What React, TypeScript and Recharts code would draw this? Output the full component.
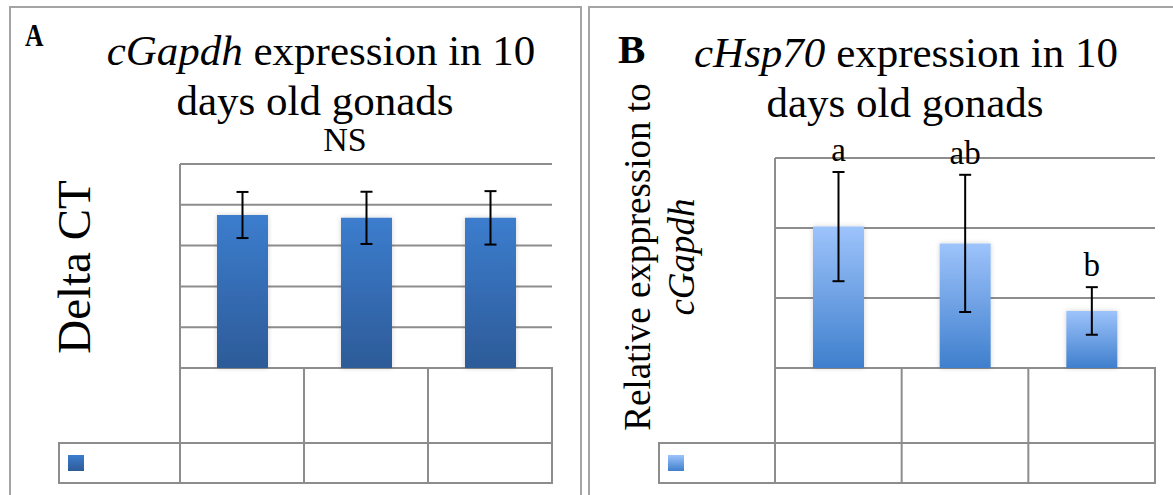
import React from "react";
import {
  BarChart,
  Bar,
  XAxis,
  YAxis,
  CartesianGrid,
  ErrorBar,
  LabelList,
  Legend,
} from "recharts";

// Panel A: cGapdh delta CT
const groups = ["", "", ""];
const gapdhDeltaCt = [7.5, 7.36, 7.36];
const gapdhError = [1.13, 1.28, 1.31];
const gapdhTicks = [0, 2, 4, 6, 8, 10];

// Panel B: cHsp70 relative to cGapdh
const hspRelative = [2.02, 1.78, 0.815];
const hspError = [0.78, 0.98, 0.34];
const hspLetters = ["a", "ab", "b"];
const hspTicks = [0, 1, 2, 3];

const gapdhData = groups.map((group, i) => ({
  group,
  value: gapdhDeltaCt[i],
  err: gapdhError[i],
}));

const hspData = groups.map((group, i) => ({
  group,
  value: hspRelative[i],
  err: hspError[i],
  sig: hspLetters[i],
}));

const LINE = "#8d8d8d";
const FRAME = "#a4a4a4";
const SERIF = "'Liberation Serif', 'Times New Roman', serif";
const ROW1 = 75;
const ROW2 = 115;

// ticks are unlabeled in the original, but the grid needs them to exist
const NoTickLabel = () => <g />;

function makeTableTick(band: number) {
  return (props: any) => {
    const { x, y, index, visibleTicksCount } = props;
    const left = x - band / 2;
    const right = x + band / 2;
    const last = index === visibleTicksCount - 1;
    const line = { stroke: LINE, strokeWidth: 2, strokeLinecap: "square" as const };
    return (
      <g>
        <line x1={left} y1={y} x2={left} y2={y + ROW2} {...line} />
        {last && <line x1={right} y1={y} x2={right} y2={y + ROW2} {...line} />}
        <line x1={left} y1={y + ROW1} x2={right} y2={y + ROW1} {...line} />
        <line x1={left} y1={y + ROW2} x2={right} y2={y + ROW2} {...line} />
      </g>
    );
  };
}

function LegendCell({ width, keyFill }: { width: number; keyFill: string }) {
  return (
    <div
      style={{
        width,
        height: 42,
        boxSizing: "border-box",
        border: `2px solid ${LINE}`,
        borderRight: "none",
        position: "relative",
      }}
    >
      <div
        style={{
          position: "absolute",
          left: 8,
          top: 11,
          width: 16,
          height: 16,
          background: keyFill,
        }}
      />
    </div>
  );
}

function SigLabel(props: any) {
  const { x, y, width, height, value, index } = props;
  const d = hspData[index];
  const errPx = (height * d.err) / d.value;
  return (
    <text
      x={x + width / 2}
      y={y - errPx - 11}
      textAnchor="middle"
      fontFamily={SERIF}
      fontSize={33}
      fill="#000"
    >
      {value}
    </text>
  );
}

function BarShadow({ id }: { id: string }) {
  return (
    <filter id={id} x="-30%" y="-10%" width="160%" height="120%">
      <feDropShadow dx="0" dy="0" stdDeviation="2.5" floodColor="#000" floodOpacity="0.18" />
    </filter>
  );
}

function GapdhChart() {
  // plot area: x 180..552, y 164..368 (page coords, chart at 0,0)
  return (
    <BarChart
      width={590}
      height={495}
      data={gapdhData}
      margin={{ top: 164, left: 179, right: 38, bottom: 12 }}
    >
      <defs>
        <linearGradient id="gapdhFill" x1="0" y1="0" x2="0" y2="1">
          <stop offset="0%" stopColor="#3c7dce" />
          <stop offset="100%" stopColor="#2d5b98" />
        </linearGradient>
        <BarShadow id="gapdhShadow" />
      </defs>
      <CartesianGrid vertical={false} stroke={LINE} strokeWidth={2} />
      <XAxis
        dataKey="group"
        height={115}
        tickSize={0}
        tickMargin={0}
        axisLine={false}
        tick={makeTableTick(124)}
        interval={0}
      />
      <YAxis
        width={1}
        domain={[0, 10]}
        ticks={gapdhTicks}
        interval={0}
        tick={NoTickLabel}
        tickLine={false}
        axisLine={{ stroke: LINE, strokeWidth: 2 }}
      />
      <Legend
        layout="horizontal"
        verticalAlign="middle"
        align="center"
        wrapperStyle={{ left: 58, top: 442, width: 122, height: 42 }}
        content={() => (
          <LegendCell width={122} keyFill="linear-gradient(#3c7dce, #2d5b98)" />
        )}
      />
      <Bar
        dataKey="value"
        fill="url(#gapdhFill)"
        filter="url(#gapdhShadow)"
        barSize={51}
        isAnimationActive={false}
      >
        <ErrorBar
          dataKey="err"
          direction="y"
          width={6}
          stroke="#000"
          strokeWidth={2}
          isAnimationActive={false}
        />
      </Bar>
    </BarChart>
  );
}

function HspChart() {
  // chart placed at page x 585; plot area page x 775..1155, y 158..368
  return (
    <BarChart
      width={588}
      height={495}
      data={hspData}
      margin={{ top: 158, left: 189, right: 18, bottom: 12 }}
    >
      <defs>
        <linearGradient id="hspFill" x1="0" y1="0" x2="0" y2="1">
          <stop offset="0%" stopColor="#9dc3fb" />
          <stop offset="100%" stopColor="#3f7fcd" />
        </linearGradient>
        <BarShadow id="hspShadow" />
      </defs>
      <CartesianGrid vertical={false} stroke={LINE} strokeWidth={2} />
      <XAxis
        dataKey="group"
        height={115}
        tickSize={0}
        tickMargin={0}
        axisLine={false}
        tick={makeTableTick(380 / 3)}
        interval={0}
      />
      <YAxis
        width={1}
        domain={[0, 3]}
        ticks={hspTicks}
        interval={0}
        tick={NoTickLabel}
        tickLine={false}
        axisLine={{ stroke: LINE, strokeWidth: 2 }}
      />
      <Legend
        layout="horizontal"
        verticalAlign="middle"
        align="center"
        wrapperStyle={{ left: 73, top: 442, width: 117, height: 42 }}
        content={() => (
          <LegendCell width={117} keyFill="linear-gradient(#9dc3fb, #3f7fcd)" />
        )}
      />
      <Bar
        dataKey="value"
        fill="url(#hspFill)"
        filter="url(#hspShadow)"
        barSize={51}
        isAnimationActive={false}
      >
        <ErrorBar
          dataKey="err"
          direction="y"
          width={6}
          stroke="#000"
          strokeWidth={2}
          isAnimationActive={false}
        />
        <LabelList dataKey="sig" content={SigLabel} />
      </Bar>
    </BarChart>
  );
}

export default function App() {
  return (
    <div
      style={{
        position: "absolute",
        left: 0,
        top: 0,
        width: 1173,
        height: 495,
        overflow: "hidden",
        background: "#fff",
        fontFamily: SERIF,
      }}
    >
      <div
        style={{
          position: "absolute",
          left: 9,
          top: 6,
          width: 573,
          height: 560,
          boxSizing: "border-box",
          border: `2px solid ${FRAME}`,
        }}
      />
      <div
        style={{
          position: "absolute",
          left: 588,
          top: 6,
          width: 700,
          height: 560,
          boxSizing: "border-box",
          border: `2px solid ${FRAME}`,
        }}
      />
      <div style={{ position: "absolute", left: 0, top: 0 }}>
        <GapdhChart />
      </div>
      <div style={{ position: "absolute", left: 585, top: 0 }}>
        <HspChart />
      </div>
      <svg
        width={1173}
        height={495}
        style={{ position: "absolute", left: 0, top: 0, pointerEvents: "none" }}
        fontFamily={SERIF}
      >
        <text transform="translate(25,46) scale(0.8,1)" fontSize={32} fontWeight="bold">
          A
        </text>
        <text x={321} y={65} textAnchor="middle" fontSize={43}>
          <tspan fontStyle="italic">cGapdh</tspan> expression in 10
        </text>
        <text x={315} y={115} textAnchor="middle" fontSize={43}>
          days old gonads
        </text>
        <text x={345} y={151} textAnchor="middle" fontSize={34}>
          NS
        </text>
        <text
          transform="translate(90,267) rotate(-90)"
          textAnchor="middle"
          fontSize={47}
        >
          Delta CT
        </text>

        <text x={618} y={63} fontSize={41} fontWeight="bold">
          B
        </text>
        <text x={906} y={67} textAnchor="middle" fontSize={43}>
          <tspan fontStyle="italic">cHsp70</tspan> expression in 10
        </text>
        <text x={905} y={117} textAnchor="middle" fontSize={43}>
          days old gonads
        </text>
        <text
          transform="translate(650,257) rotate(-90)"
          textAnchor="middle"
          fontSize={37}
        >
          Relative exppression to
        </text>
        <text
          transform="translate(694,257) rotate(-90)"
          textAnchor="middle"
          fontSize={37}
          fontStyle="italic"
        >
          cGapdh
        </text>
      </svg>
    </div>
  );
}
